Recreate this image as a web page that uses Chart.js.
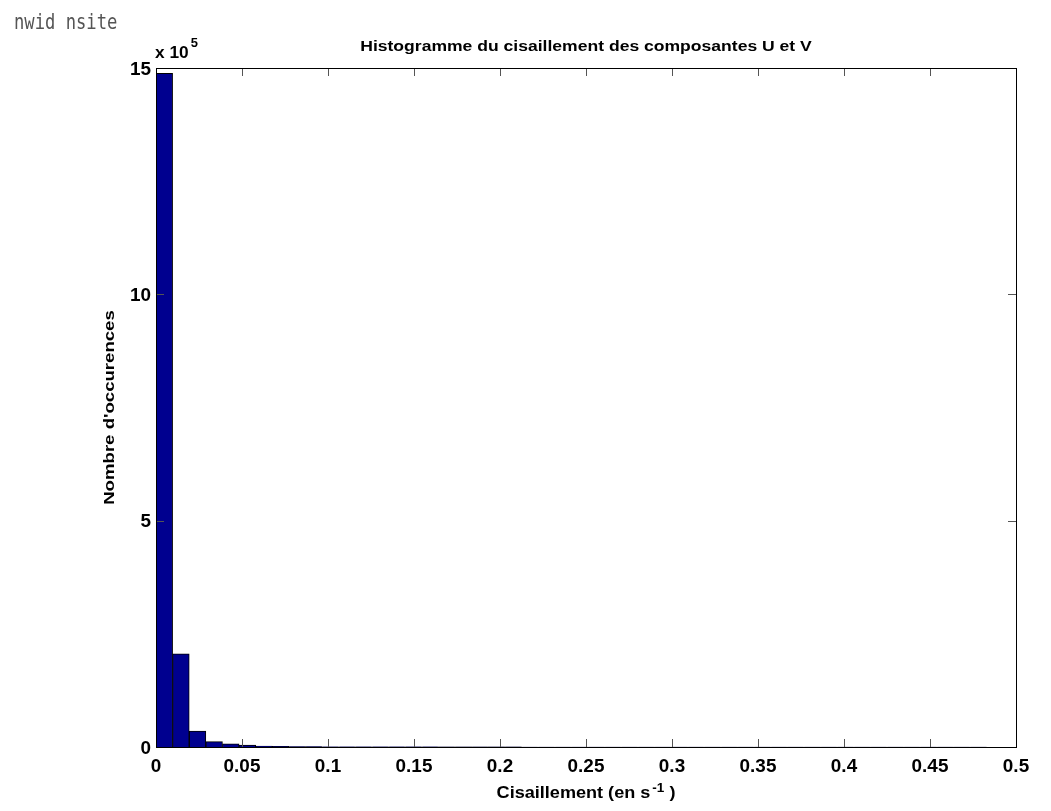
<!DOCTYPE html>
<html>
<head>
<meta charset="utf-8">
<script src="https://cdn.jsdelivr.net/npm/chart.js@4"></script>
<style>
  html, body { margin: 0; padding: 0; background: #fff; }
</style>
</head>
<body>
<canvas id="histo" width="1051" height="811"></canvas>
<script>
// histogram bins (s^-1), 50 bins of equal width
const binWidth = 0.00966;
const counts = [
    1488000, 206000, 35000, 12000, 7000, 4000, 2000, 1300, 900, 700,
    550, 450, 380, 320, 270, 230, 200, 170, 150, 130,
    115, 100, 90, 80, 70, 62, 55, 50, 45, 40,
    36, 33, 30, 27, 25, 23, 21, 19, 18, 17,
    16, 15, 14, 13, 12, 11, 10, 9, 8, 8
];
const xTicks = [0, 0.05, 0.1, 0.15, 0.2, 0.25, 0.3, 0.35, 0.4, 0.45, 0.5];
const yTicks = [0, 500000, 1000000, 1500000];
const yExponent = 5;

const titleText = "Histogramme du cisaillement des composantes U et V";
const yLabel = "Nombre d'occurences";
const cornerText = "nwid nsite";

const points = counts.map((c, i) => ({ x: (i + 0.5) * binWidth, y: c }));

const fontFam = '"Liberation Sans", Arial, sans-serif';

// text drawn a bit wider, like the original renderer
function wideText(ctx, text, x, y, size, sx, align) {
    ctx.save();
    ctx.font = 'bold ' + size + 'px ' + fontFam;
    const w = ctx.measureText(text).width * sx;
    let left = x;
    if (align === 'center') left = x - w / 2;
    if (align === 'right') left = x - w;
    ctx.translate(left, y);
    ctx.scale(sx, 1);
    ctx.textAlign = 'left';
    ctx.fillText(text, 0, 0);
    ctx.restore();
    return w;
}
function textWidth(ctx, text, size, sx) {
    ctx.font = 'bold ' + size + 'px ' + fontFam;
    return ctx.measureText(text).width * sx;
}

const matlabFrame = {
    id: 'matlabFrame',
    afterDraw(chart) {
        const ctx = chart.ctx;
        const a = chart.chartArea;
        const xs = chart.scales.x, ys = chart.scales.y;
        ctx.save();
        // inward ticks
        ctx.strokeStyle = '#555';
        ctx.lineWidth = 1;
        ctx.beginPath();
        xTicks.forEach(v => {
            const px = Math.round(xs.getPixelForValue(v)) + 0.5;
            ctx.moveTo(px, a.bottom); ctx.lineTo(px, a.bottom - 8);
            ctx.moveTo(px, a.top); ctx.lineTo(px, a.top + 8);
        });
        yTicks.forEach(v => {
            const py = Math.round(ys.getPixelForValue(v)) + 0.5;
            ctx.moveTo(a.left, py); ctx.lineTo(a.left + 8, py);
            ctx.moveTo(a.right, py); ctx.lineTo(a.right - 8, py);
        });
        ctx.stroke();
        // box
        ctx.strokeStyle = '#000';
        ctx.strokeRect(Math.round(a.left) + 0.5, Math.round(a.top) + 0.5,
            Math.round(a.right - a.left), Math.round(a.bottom - a.top));

        ctx.fillStyle = '#000';
        ctx.textBaseline = 'alphabetic';

        // tick labels
        xTicks.forEach(v => {
            wideText(ctx, String(Number(v.toFixed(2))), xs.getPixelForValue(v), 772, 17.5, 1.08, 'center');
        });
        yTicks.forEach(v => {
            wideText(ctx, String(v / Math.pow(10, yExponent)), a.left - 5, ys.getPixelForValue(v) + 6.5, 17.5, 1.08, 'right');
        });

        // title
        wideText(ctx, titleText, (a.left + a.right) / 2, 51, 15, 1.17, 'center');

        // exponent
        const w10 = wideText(ctx, 'x 10', a.left - 1, 58, 16, 1.08, 'left');
        wideText(ctx, String(yExponent), a.left + w10 + 1, 47, 12, 1.08, 'left');

        // x label with superscript
        const p1 = 'Cisaillement (en s', p2 = '-1', p3 = ' )';
        const w1 = textWidth(ctx, p1, 16, 1.13);
        const w2 = textWidth(ctx, p2, 12, 1.13);
        const w3 = textWidth(ctx, p3, 16, 1.13);
        const sx = (a.left + a.right) / 2 - (w1 + w2 + w3 + 2) / 2;
        wideText(ctx, p1, sx, 798, 16, 1.13, 'left');
        wideText(ctx, p2, sx + w1 + 2, 792, 12, 1.13, 'left');
        wideText(ctx, p3, sx + w1 + w2 + 2, 798, 16, 1.13, 'left');

        // y label
        ctx.save();
        ctx.translate(113.5, (a.top + a.bottom) / 2);
        ctx.rotate(-Math.PI / 2);
        wideText(ctx, yLabel, 0, 0, 15.5, 1.2, 'center');
        ctx.restore();

        // stray label in the corner
        ctx.save();
        ctx.fillStyle = '#555';
        ctx.font = '22px "DejaVu Sans Mono", monospace';
        ctx.translate(14, 29);
        ctx.scale(0.78, 1);
        ctx.fillText(cornerText, 0, 0);
        ctx.restore();

        ctx.restore();
    }
};

new Chart(document.getElementById('histo'), {
    type: 'bar',
    data: {
        datasets: [{
            data: points,
            backgroundColor: '#00008f',
            borderColor: '#000',
            borderWidth: 1,
            borderSkipped: 'bottom',
            barPercentage: 1,
            categoryPercentage: 1
        }]
    },
    options: {
        responsive: false,
        animation: false,
        layout: { padding: { left: 0, top: 68, right: 35, bottom: 0 } },
        plugins: { legend: { display: false }, tooltip: { enabled: false } },
        scales: {
            x: {
                type: 'linear',
                min: 0, max: 0.5,
                offset: false,
                afterBuildTicks: s => { s.ticks = xTicks.map(v => ({ value: v })); },
                afterFit: s => { s.height = 64; },
                grid: { display: false, drawTicks: false },
                border: { display: false },
                ticks: { display: false }
            },
            y: {
                min: 0, max: 1500000,
                afterBuildTicks: s => { s.ticks = yTicks.map(v => ({ value: v })); },
                afterFit: s => { s.width = 156; },
                grid: { display: false, drawTicks: false },
                border: { display: false },
                ticks: { display: false }
            }
        }
    },
    plugins: [matlabFrame]
});
</script>
</body>
</html>
